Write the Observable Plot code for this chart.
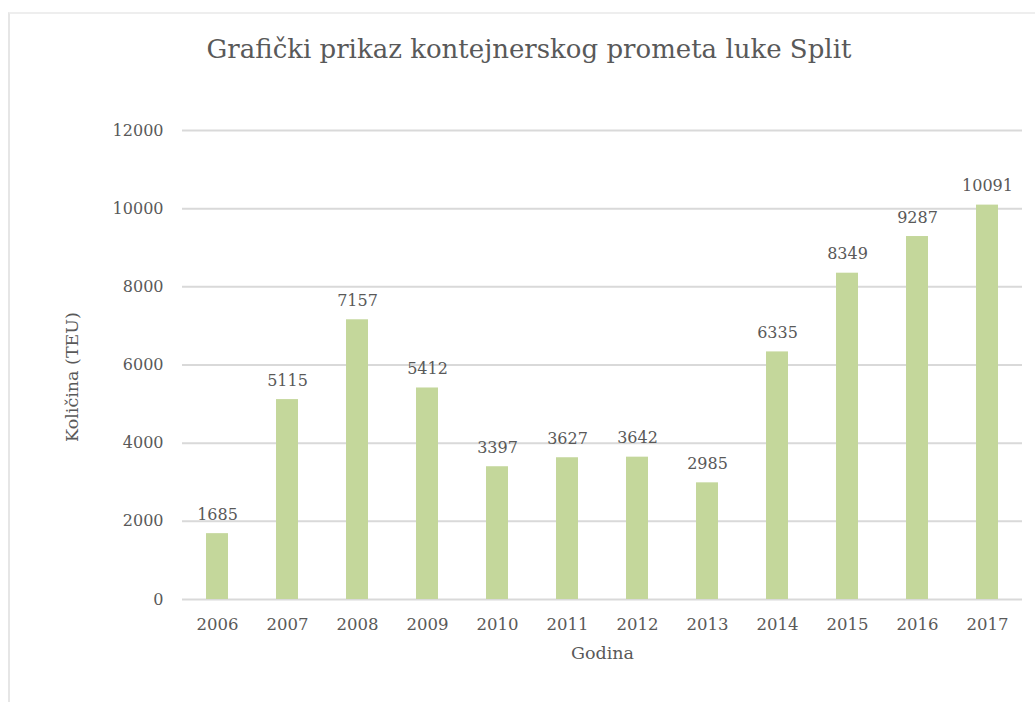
<!DOCTYPE html>
<html>
<head>
<meta charset="utf-8">
<script src="https://cdn.jsdelivr.net/npm/d3@7"></script>
<script src="https://cdn.jsdelivr.net/npm/@observablehq/plot@0.6"></script>
<style>
  html, body { margin: 0; padding: 0; background: #fff; }
  #wrap { position: relative; width: 1035px; height: 702px; overflow: hidden; font-family: "DejaVu Serif", serif; }
  #frame { position: absolute; left: 8px; top: 12px; width: 1040px; height: 700px; border-left: 2px solid #e6e6e6; border-top: 2px solid #eeeeee; box-sizing: border-box; }
  #title { position: absolute; left: 0; top: 0; width: 1058px; height: 100px; text-align: center; line-height: 98px; font-size: 26px; color: #595959; }
  #chart { position: absolute; left: 0; top: 100px; }
</style>
</head>
<body>
<div id="wrap">
  <div id="frame"></div>
  <div id="title">Grafički prikaz kontejnerskog prometa luke Split</div>
  <div id="chart"></div>
</div>
<script>
const years = ["2006","2007","2008","2009","2010","2011","2012","2013","2014","2015","2016","2017"];
const teu = [1685, 5115, 7157, 5412, 3397, 3627, 3642, 2985, 6335, 8349, 9287, 10091];
const yTicks = [0, 2000, 4000, 6000, 8000, 10000, 12000];
const yTitle = "Količina (TEU)";
const xTitle = "Godina";

const data = years.map((y, i) => ({year: y, value: teu[i]}));
const textColor = "#595959";

const chart = Plot.plot({
  width: 1035,
  height: 602,
  marginTop: 30,
  marginBottom: 103,
  marginLeft: 182,
  marginRight: 13,
  style: { fontFamily: "DejaVu Serif, serif", fontSize: "16px", color: textColor, background: "transparent" },
  x: { domain: years, paddingInner: 0.686, paddingOuter: 0.343, round: false, label: null },
  y: { domain: [0, 12000], ticks: yTicks, label: null },
  marks: [
    Plot.gridY(yTicks, { stroke: "#d9d9d9", strokeOpacity: 1, strokeWidth: 2 }),
    Plot.barY(data, { x: "year", y: "value", fill: "#c4d79b" }),
    Plot.text(data, { x: "year", y: "value", text: d => String(d.value), dy: -14, lineAnchor: "bottom", fill: textColor, fontSize: 16 }),
    Plot.axisX({ tickSize: 0, tickPadding: 19, fontSize: 16.5, label: null }),
    Plot.axisY(yTicks, { tickSize: 0, tickPadding: 19, fontSize: 16, label: null, tickFormat: d => String(d) }),
    Plot.text([yTitle], { frameAnchor: "left", textAnchor: "middle", dx: -110, dy: 12, rotate: -90, text: d => d, fill: textColor, fontSize: 17.5 }),
    Plot.text([xTitle], { frameAnchor: "bottom", dy: 59, text: d => d, fill: textColor, fontSize: 17.5 })
  ]
});
document.getElementById("chart").appendChild(chart);
</script>
</body>
</html>
